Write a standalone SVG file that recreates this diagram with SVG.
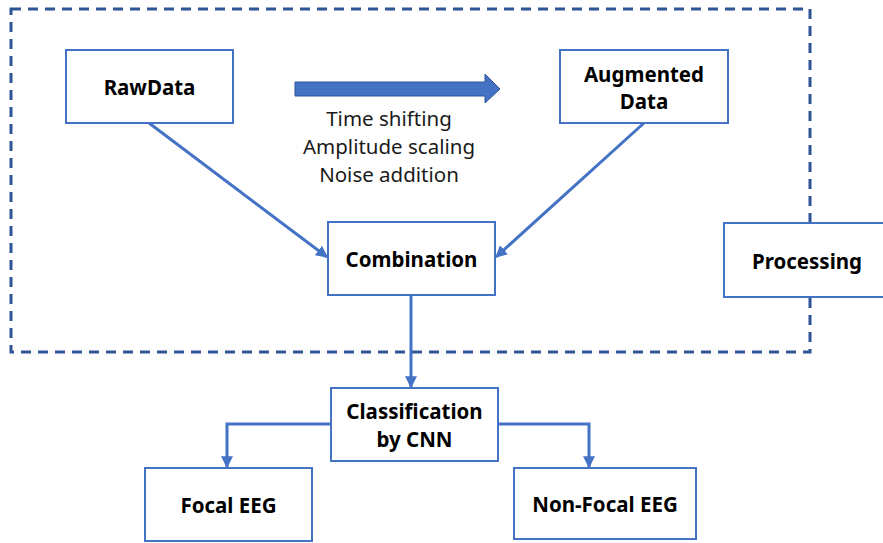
<svg xmlns="http://www.w3.org/2000/svg" width="883" height="543" viewBox="0 0 883 543">
  <style>
    .box { fill: #ffffff; stroke: #4472C4; stroke-width: 2; }
    .lbl { font-family: "Noto Sans", "Liberation Sans", sans-serif; font-size: 20.5px; font-weight: bold; fill: #000000; text-anchor: middle; dominant-baseline: central; }
    .note { font-family: "Noto Sans", "Liberation Sans", sans-serif; font-size: 20.5px; fill: #1a1a1a; text-anchor: middle; dominant-baseline: central; }
    .conn { fill: none; stroke: #4472C4; stroke-width: 3; }
  </style>
  <defs>
    <marker id="arrow" viewBox="0 0 10 10" refX="9" refY="5" markerWidth="4" markerHeight="4" orient="auto" markerUnits="strokeWidth">
      <path d="M0,0 L10,5 L0,10 Z" fill="#4472C4"/>
    </marker>
  </defs>
  <rect width="883" height="543" fill="#ffffff"/>

  <!-- processing region boundary -->
  <rect id="region" x="11" y="9" width="799" height="343" fill="none" stroke="#2F5597" stroke-width="3" stroke-dasharray="10,7"/>

  <!-- augmentation block arrow -->
  <g id="augment-arrow">
    <path d="M295,82 L485,82 L485,74 L500,89 L485,103 L485,96 L295,96 Z" fill="#4472C4" stroke="#2F5597" stroke-width="1"/>
    <text class="note" x="389" y="118">Time shifting</text>
    <text class="note" x="389" y="146">Amplitude scaling</text>
    <text class="note" x="389" y="174">Noise addition</text>
  </g>

  <g id="connectors">
    <line class="conn" x1="149" y1="123" x2="327" y2="257" marker-end="url(#arrow)"/>
    <line class="conn" x1="644" y1="123" x2="496" y2="257" marker-end="url(#arrow)"/>
    <line class="conn" x1="411" y1="295" x2="411" y2="387" marker-end="url(#arrow)"/>
    <polyline class="conn" points="331,424 227,424 227,467" marker-end="url(#arrow)"/>
    <polyline class="conn" points="498,424 589,424 589,467" marker-end="url(#arrow)"/>
  </g>

  <g id="rawdata">
    <rect class="box" x="66" y="50" width="167" height="73"/>
    <text class="lbl" x="149.5" y="87">RawData</text>
  </g>
  <g id="augmented">
    <rect class="box" x="560" y="50" width="168" height="73"/>
    <text class="lbl" x="644" y="74">Augmented</text>
    <text class="lbl" x="644" y="101">Data</text>
  </g>
  <g id="combination">
    <rect class="box" x="328" y="222" width="167" height="73"/>
    <text class="lbl" x="411.5" y="259">Combination</text>
  </g>
  <g id="processing">
    <rect class="box" x="724" y="223" width="170" height="74"/>
    <text class="lbl" x="807" y="261">Processing</text>
  </g>
  <g id="classification">
    <rect class="box" x="331" y="388" width="167" height="73"/>
    <text class="lbl" x="414.5" y="411">Classification</text>
    <text class="lbl" x="414.5" y="439">by CNN</text>
  </g>
  <g id="focal">
    <rect class="box" x="145" y="468" width="167" height="73"/>
    <text class="lbl" x="228.5" y="505">Focal EEG</text>
  </g>
  <g id="nonfocal">
    <rect class="box" x="514" y="468" width="182" height="71"/>
    <text class="lbl" x="605" y="504">Non-Focal EEG</text>
  </g>
</svg>
